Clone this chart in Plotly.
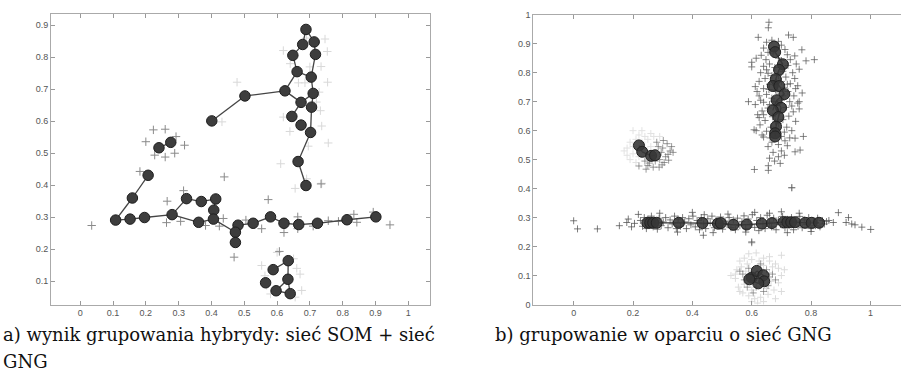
import plotly.graph_objects as go

# ---------------- left panel: SOM + GNG hybrid ----------------
som_nodes_x = [0.688, 0.678, 0.713, 0.648, 0.717, 0.661, 0.704, 0.624, 0.710, 0.673, 0.705, 0.645, 0.673, 0.702,
               0.664, 0.688, 0.502, 0.401, 0.240, 0.276, 0.207, 0.159, 0.108, 0.152, 0.196, 0.280, 0.324, 0.369,
               0.413, 0.407, 0.406, 0.361, 0.481, 0.473, 0.473, 0.527, 0.580, 0.621, 0.666, 0.723, 0.813, 0.901,
               0.634, 0.588, 0.633, 0.565, 0.597, 0.640]
som_nodes_y = [0.887, 0.840, 0.848, 0.806, 0.809, 0.755, 0.738, 0.695, 0.687, 0.659, 0.644, 0.615, 0.588, 0.565,
               0.474, 0.399, 0.679, 0.601, 0.517, 0.534, 0.431, 0.360, 0.291, 0.294, 0.299, 0.308, 0.358, 0.349,
               0.357, 0.322, 0.294, 0.284, 0.275, 0.253, 0.221, 0.281, 0.301, 0.281, 0.277, 0.281, 0.292, 0.301,
               0.164, 0.136, 0.106, 0.095, 0.070, 0.061]
# edges as index pairs into the node lists
som_edges_a = [0, 0, 2, 1, 3, 5, 4, 5, 6, 7, 9, 8, 9, 10, 13, 14, 7, 16, 18, 20, 21, 22, 23, 24, 25, 26, 27, 28, 29,
               25, 31, 30, 33, 33, 32, 35, 36, 37, 38, 39, 40, 42, 42, 44, 44, 46]
som_edges_b = [1, 2, 4, 3, 5, 6, 6, 7, 8, 9, 8, 10, 11, 13, 14, 15, 16, 17, 19, 21, 22, 23, 24, 25, 26, 27, 28, 29, 30,
               31, 30, 33, 32, 34, 35, 36, 37, 38, 39, 40, 41, 43, 44, 46, 47, 47]

som_pts_dark_x = [0.035, 0.182, 0.223, 0.259, 0.200, 0.292, 0.318, 0.288, 0.259, 0.227, 0.315, 0.265, 0.263, 0.306,
                  0.469, 0.573, 0.553, 0.621, 0.663, 0.834, 0.893, 0.944, 0.439, 0.382, 0.424, 0.436, 0.505, 0.663,
                  0.710, 0.756, 0.787, 0.843, 0.734, 0.607]
som_pts_dark_y = [0.274, 0.443, 0.573, 0.575, 0.536, 0.552, 0.525, 0.500, 0.488, 0.494, 0.383, 0.350, 0.283, 0.287,
                  0.175, 0.355, 0.264, 0.252, 0.301, 0.309, 0.316, 0.276, 0.426, 0.274, 0.272, 0.296, 0.291, 0.264,
                  0.272, 0.289, 0.287, 0.284, 0.404, 0.193]
som_pts_light_x = [0.619, 0.753, 0.746, 0.734, 0.754, 0.728, 0.732, 0.736, 0.756, 0.611, 0.736, 0.655, 0.639, 0.619,
                   0.685, 0.665, 0.695, 0.478, 0.432, 0.553, 0.670, 0.675, 0.563, 0.568, 0.650, 0.660, 0.690, 0.640,
                   0.700, 0.720, 0.600, 0.580, 0.655, 0.690]
som_pts_light_y = [0.821, 0.818, 0.857, 0.771, 0.722, 0.691, 0.633, 0.585, 0.532, 0.467, 0.406, 0.390, 0.568, 0.613,
                   0.720, 0.720, 0.522, 0.722, 0.598, 0.149, 0.122, 0.071, 0.117, 0.087, 0.170, 0.140, 0.860, 0.780,
                   0.770, 0.660, 0.190, 0.060, 0.050, 0.420]

# ---------------- right panel: GNG ----------------
gng_nodes_x = [0.675, 0.679, 0.705, 0.692, 0.681, 0.671, 0.693, 0.710, 0.684, 0.699, 0.671, 0.690, 0.682, 0.679, 0.679,
               0.220, 0.231, 0.261, 0.274,
               0.248, 0.258, 0.268, 0.280, 0.354, 0.434, 0.486, 0.496, 0.538, 0.583, 0.634, 0.668, 0.707, 0.720,
               0.733, 0.746, 0.780, 0.802, 0.827,
               0.600, 0.617, 0.639, 0.642, 0.622, 0.592]
gng_nodes_y = [0.890, 0.871, 0.829, 0.810, 0.778, 0.754, 0.754, 0.726, 0.705, 0.679, 0.670, 0.647, 0.614, 0.591, 0.580,
               0.549, 0.527, 0.513, 0.515,
               0.282, 0.282, 0.282, 0.282, 0.282, 0.281, 0.279, 0.281, 0.275, 0.276, 0.279, 0.281, 0.284, 0.284,
               0.284, 0.284, 0.282, 0.282, 0.282,
               0.093, 0.116, 0.101, 0.080, 0.073, 0.087]
gng_edges_a = [0, 1, 2, 3, 4, 6, 7, 8, 9, 11, 12, 13, 15, 16, 17, 19, 20, 21, 22, 23, 24, 25, 26, 27, 28, 29, 30, 31,
               32, 33, 34, 35, 36, 38, 39, 40, 41, 42, 43, 8, 5]
gng_edges_b = [1, 2, 3, 4, 6, 7, 8, 9, 11, 12, 13, 14, 16, 17, 18, 20, 21, 22, 23, 24, 25, 26, 27, 28, 29, 30, 31, 32,
               33, 34, 35, 36, 37, 39, 40, 41, 42, 43, 38, 10, 4]

gng_top_x = [0.658, 0.656, 0.622, 0.724, 0.740, 0.769, 0.783, 0.811, 0.600, 0.600, 0.589, 0.608, 0.774, 0.746, 0.609,
             0.656, 0.656, 0.696, 0.677, 0.763, 0.746, 0.735,
             0.650, 0.668, 0.690, 0.700, 0.640, 0.712, 0.655, 0.632, 0.720, 0.745, 0.648, 0.690, 0.730, 0.615, 0.660,
             0.640, 0.722, 0.750, 0.678, 0.705, 0.630, 0.655, 0.738, 0.760, 0.645, 0.668, 0.715, 0.745, 0.625, 0.700,
             0.660, 0.730, 0.755, 0.612, 0.640, 0.708, 0.685, 0.722, 0.650, 0.625, 0.742, 0.770, 0.668, 0.700, 0.728,
             0.640, 0.612, 0.755, 0.682, 0.715, 0.655, 0.635, 0.740, 0.760, 0.690, 0.620, 0.670, 0.725, 0.705, 0.645,
             0.748, 0.628, 0.690, 0.665, 0.718, 0.735, 0.650, 0.680, 0.700, 0.640, 0.712, 0.668, 0.690, 0.655, 0.720,
             0.700, 0.672, 0.690, 0.660, 0.710, 0.635, 0.662, 0.625, 0.675, 0.658, 0.690, 0.720, 0.650, 0.735, 0.705,
             0.680, 0.700, 0.672, 0.630, 0.760, 0.748, 0.618, 0.640, 0.710, 0.728, 0.615, 0.680, 0.660]
gng_top_y = [0.974, 0.955, 0.922, 0.930, 0.922, 0.879, 0.841, 0.845, 0.836, 0.820, 0.700, 0.603, 0.580, 0.574, 0.466,
             0.479, 0.463, 0.487, 0.495, 0.533, 0.527, 0.403,
             0.905, 0.912, 0.908, 0.895, 0.885, 0.880, 0.870, 0.860, 0.862, 0.858, 0.845, 0.850, 0.845, 0.850, 0.830,
             0.822, 0.825, 0.830, 0.818, 0.805, 0.800, 0.798, 0.800, 0.812, 0.780, 0.790, 0.785, 0.780, 0.770, 0.770,
             0.760, 0.762, 0.755, 0.752, 0.745, 0.748, 0.735, 0.735, 0.725, 0.720, 0.720, 0.730, 0.712, 0.705, 0.700,
             0.698, 0.690, 0.695, 0.688, 0.680, 0.678, 0.668, 0.665, 0.675, 0.660, 0.655, 0.648, 0.650, 0.638, 0.635,
             0.632, 0.620, 0.625, 0.612, 0.612, 0.600, 0.598, 0.590, 0.580, 0.578, 0.565, 0.560, 0.552, 0.545, 0.548,
             0.530, 0.525, 0.510, 0.505, 0.515, 0.585, 0.575, 0.645, 0.700, 0.742, 0.790, 0.760, 0.810, 0.685, 0.720,
             0.740, 0.842, 0.865, 0.705, 0.700, 0.745, 0.735, 0.655, 0.595, 0.575, 0.600, 0.630, 0.690]

gng_left_dark_x = [0.302, 0.325, 0.335, 0.244, 0.268, 0.288, 0.220, 0.300, 0.310, 0.290, 0.275, 0.315, 0.295, 0.255,
                   0.320, 0.285, 0.262, 0.305, 0.240, 0.280, 0.330, 0.250, 0.298, 0.318]
gng_left_dark_y = [0.566, 0.530, 0.525, 0.467, 0.474, 0.474, 0.478, 0.540, 0.510, 0.500, 0.495, 0.555, 0.525, 0.488,
                   0.498, 0.545, 0.505, 0.490, 0.495, 0.560, 0.545, 0.480, 0.482, 0.518]
gng_left_light_x = [0.200, 0.220, 0.180, 0.170, 0.190, 0.210, 0.240, 0.260, 0.230, 0.200, 0.190, 0.210, 0.230, 0.250,
                    0.270, 0.280, 0.260, 0.220, 0.240, 0.200, 0.250, 0.180, 0.230, 0.290]
gng_left_light_y = [0.600, 0.585, 0.540, 0.530, 0.560, 0.570, 0.580, 0.590, 0.560, 0.520, 0.500, 0.490, 0.530, 0.570,
                    0.580, 0.525, 0.545, 0.510, 0.540, 0.545, 0.500, 0.515, 0.600, 0.580]

gng_band_x = [0.000, 0.013, 0.080, 0.154, 0.179, 0.184, 0.218, 0.437, 0.892, 0.926, 0.918, 0.937, 0.948, 0.971, 1.001,
              0.600, 0.875, 0.860,
              0.225, 0.232, 0.238, 0.245, 0.250, 0.256, 0.262, 0.268, 0.275, 0.282, 0.288, 0.295, 0.302, 0.310,
              0.318, 0.325, 0.332, 0.340, 0.346, 0.352, 0.360, 0.367, 0.374, 0.380, 0.388, 0.395, 0.402, 0.410,
              0.416, 0.424, 0.430, 0.438, 0.445, 0.452, 0.460, 0.466, 0.474, 0.480, 0.488, 0.495, 0.502, 0.510,
              0.517, 0.524, 0.530, 0.538, 0.545, 0.552, 0.560, 0.567, 0.574, 0.580, 0.588, 0.595, 0.602, 0.610,
              0.617, 0.624, 0.630, 0.638, 0.645, 0.652, 0.660, 0.667, 0.674, 0.682, 0.690, 0.697, 0.704, 0.712,
              0.720, 0.726, 0.734, 0.741, 0.748, 0.756, 0.762, 0.770, 0.777, 0.785, 0.792, 0.800, 0.808, 0.815,
              0.822, 0.830, 0.838, 0.845, 0.852,
              0.290, 0.400, 0.520, 0.610, 0.700, 0.760, 0.350, 0.470, 0.580, 0.720, 0.800, 0.440, 0.660, 0.205,
              0.195]
gng_band_y = [0.289, 0.261, 0.261, 0.272, 0.283, 0.295, 0.311, 0.239, 0.317, 0.300, 0.283, 0.278, 0.275, 0.267, 0.259,
              0.216, 0.283, 0.290,
              0.290, 0.270, 0.300, 0.262, 0.295, 0.275, 0.305, 0.268, 0.290, 0.260, 0.298, 0.272, 0.285, 0.300,
              0.265, 0.292, 0.278, 0.305, 0.262, 0.295, 0.270, 0.300, 0.285, 0.262, 0.296, 0.275, 0.305, 0.268,
              0.290, 0.258, 0.300, 0.278, 0.262, 0.296, 0.282, 0.305, 0.265, 0.292, 0.272, 0.302, 0.260, 0.288,
              0.276, 0.300, 0.265, 0.292, 0.258, 0.298, 0.272, 0.286, 0.306, 0.262, 0.295, 0.275, 0.310, 0.266,
              0.290, 0.255, 0.300, 0.278, 0.262, 0.308, 0.284, 0.268, 0.298, 0.258, 0.292, 0.276, 0.304, 0.264,
              0.294, 0.272, 0.300, 0.258, 0.288, 0.270, 0.304, 0.265, 0.292, 0.276, 0.300, 0.262, 0.288, 0.272,
              0.298, 0.268, 0.290, 0.278, 0.286,
              0.315, 0.318, 0.312, 0.318, 0.320, 0.315, 0.250, 0.248, 0.250, 0.248, 0.252, 0.310, 0.315, 0.280,
              0.268]

gng_bottom_light_x = [0.560, 0.575, 0.590, 0.615, 0.640, 0.660, 0.680, 0.700, 0.550, 0.545, 0.555, 0.570, 0.590,
                      0.610, 0.630, 0.655, 0.675, 0.690, 0.700, 0.690, 0.670, 0.565, 0.580, 0.575, 0.600, 0.650,
                      0.665, 0.660, 0.585, 0.640, 0.600, 0.625, 0.545, 0.560, 0.620, 0.640, 0.680, 0.700, 0.710,
                      0.530, 0.600, 0.660]
gng_bottom_light_y = [0.150, 0.160, 0.175, 0.178, 0.160, 0.150, 0.140, 0.170, 0.120, 0.090, 0.060, 0.040, 0.030,
                      0.020, 0.025, 0.035, 0.050, 0.075, 0.100, 0.125, 0.130, 0.130, 0.115, 0.070, 0.050, 0.055,
                      0.080, 0.110, 0.140, 0.135, 0.155, 0.150, 0.105, 0.045, 0.005, 0.010, 0.020, 0.045, 0.120,
                      0.100, 0.010, 0.165]
gng_bottom_dark_x = [0.600, 0.570, 0.575, 0.650, 0.660, 0.655, 0.640, 0.605, 0.585, 0.590, 0.630, 0.670, 0.615,
                     0.680, 0.560, 0.735]
gng_bottom_dark_y = [0.213, 0.105, 0.085, 0.120, 0.095, 0.065, 0.045, 0.040, 0.060, 0.125, 0.140, 0.105, 0.060,
                     0.085, 0.115, 0.403]

left_xticks = [0, 0.1, 0.2, 0.3, 0.4, 0.5, 0.6, 0.7, 0.8, 0.9, 1]
left_xlabels = ["0", "0.1", "0.2", "0.3", "0.4", "0.5", "0.6", "0.7", "0.8", "0.9", "1"]
left_yticks = [0.1, 0.2, 0.3, 0.4, 0.5, 0.6, 0.7, 0.8, 0.9]
left_ylabels = ["0.1", "0.2", "0.3", "0.4", "0.5", "0.6", "0.7", "0.8", "0.9"]
right_xticks = [0, 0.2, 0.4, 0.6, 0.8, 1]
right_xlabels = ["0", "0.2", "0.4", "0.6", "0.8", "1"]
right_yticks = [0, 0.1, 0.2, 0.3, 0.4, 0.5, 0.6, 0.7, 0.8, 0.9, 1]
right_ylabels = ["0", "0.1", "0.2", "0.3", "0.4", "0.5", "0.6", "0.7", "0.8", "0.9", "1"]

caption_a1 = "a) wynik grupowania hybrydy: sieć SOM + sieć"
caption_a2 = "GNG"
caption_b = "b) grupowanie w oparciu o sieć GNG"

W, H = 901, 376
fig = go.Figure()


def edges_xy(nx, ny, ea, eb):
    xs, ys = [], []
    for a, b in zip(ea, eb):
        xs += [nx[a], nx[b], None]
        ys += [ny[a], ny[b], None]
    return xs, ys


def plus(x, y, color, xa, ya, size=6, width=1):
    fig.add_trace(go.Scatter(x=x, y=y, mode="markers", xaxis=xa, yaxis=ya, hoverinfo="skip",
                             marker=dict(symbol="cross-thin", size=size, line=dict(color=color, width=width))))


# left panel
plus(som_pts_light_x, som_pts_light_y, "#d8d8d8", "x", "y")
plus(som_pts_dark_x, som_pts_dark_y, "#8a8a8a", "x", "y")
ex, ey = edges_xy(som_nodes_x, som_nodes_y, som_edges_a, som_edges_b)
fig.add_trace(go.Scatter(x=ex, y=ey, mode="lines", xaxis="x", yaxis="y", hoverinfo="skip",
                         line=dict(color="#444444", width=1.3)))
fig.add_trace(go.Scatter(x=som_nodes_x, y=som_nodes_y, mode="markers", xaxis="x", yaxis="y", hoverinfo="skip",
                         marker=dict(size=10.5, color="#3d3d3d", line=dict(color="#1e1e1e", width=1))))

# right panel
plus(gng_left_light_x, gng_left_light_y, "#e2e2e2", "x2", "y2", size=5)
plus(gng_bottom_light_x, gng_bottom_light_y, "#dcdcdc", "x2", "y2", size=5)
plus(gng_top_x, gng_top_y, "rgba(90,90,90,0.75)", "x2", "y2", size=5)
plus(gng_left_dark_x, gng_left_dark_y, "rgba(100,100,100,0.65)", "x2", "y2", size=5)
plus(gng_band_x, gng_band_y, "rgba(80,80,80,0.75)", "x2", "y2", size=5)
plus(gng_bottom_dark_x, gng_bottom_dark_y, "rgba(100,100,100,0.6)", "x2", "y2", size=5)
ex2, ey2 = edges_xy(gng_nodes_x, gng_nodes_y, gng_edges_a, gng_edges_b)
fig.add_trace(go.Scatter(x=ex2, y=ey2, mode="lines", xaxis="x2", yaxis="y2", hoverinfo="skip",
                         line=dict(color="#333333", width=1.3)))
fig.add_trace(go.Scatter(x=gng_nodes_x, y=gng_nodes_y, mode="markers", xaxis="x2", yaxis="y2", hoverinfo="skip",
                         marker=dict(size=11, color="rgba(55,55,55,0.9)", line=dict(color="#222222", width=1))))

axis_common = dict(showgrid=False, zeroline=False, showline=True, linecolor="#aaaaaa", linewidth=1,
                   ticks="inside", ticklen=4, tickcolor="#999999", tickwidth=1,
                   tickfont=dict(family="Liberation Sans, Arial, sans-serif", size=9, color="#555555"))

fig.update_layout(
    width=W, height=H, margin=dict(l=0, r=0, t=0, b=0),
    paper_bgcolor="white", plot_bgcolor="white", showlegend=False,
    xaxis=dict(domain=[51 / W, 430 / W], range=[-0.089, 1.066], tickmode="array", tickvals=left_xticks,
               ticktext=left_xlabels, mirror="allticks", anchor="y", **axis_common),
    yaxis=dict(domain=[1 - 307.7 / H, 1 - 9 / H], range=[0.027, 0.936], tickmode="array", tickvals=left_yticks,
               ticktext=left_ylabels, mirror="allticks", anchor="x", **axis_common),
    xaxis2=dict(domain=[533.3 / W, 1.0], range=[-0.136, 1.103], tickmode="array", tickvals=right_xticks,
                ticktext=right_xlabels, mirror="allticks", anchor="y2", **axis_common),
    yaxis2=dict(domain=[1 - 307.7 / H, 1 - 10 / H], range=[0, 1], tickmode="array", tickvals=right_yticks,
                ticktext=right_ylabels, mirror=False, anchor="x2", **axis_common),
)

cap_font = dict(family="DejaVu Serif, serif", size=18, color="#111111")
fig.add_annotation(x=1 / W, y=1 - 326 / H, xref="paper", yref="paper", xanchor="left", yanchor="top",
                   text=caption_a1, showarrow=False, font=cap_font)
fig.add_annotation(x=1 / W, y=1 - 353 / H, xref="paper", yref="paper", xanchor="left", yanchor="top",
                   text=caption_a2, showarrow=False, font=cap_font)
fig.add_annotation(x=493 / W, y=1 - 326 / H, xref="paper", yref="paper", xanchor="left", yanchor="top",
                   text=caption_b, showarrow=False, font=cap_font)

fig.write_html("out.html")
